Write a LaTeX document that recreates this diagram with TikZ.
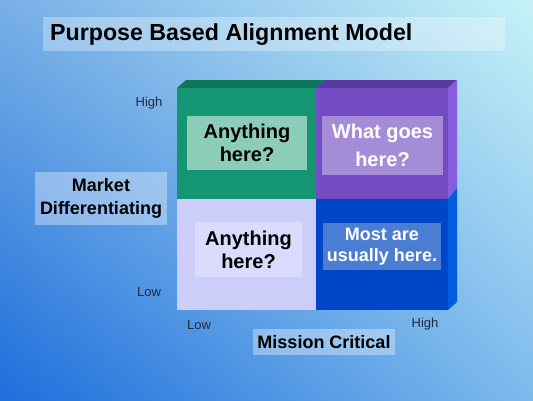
\documentclass[tikz,border=0pt]{standalone}
\usepackage{fontspec}
\setmainfont{Liberation Sans}
\usepackage{xcolor}
\usepackage{tikz}
\usetikzlibrary{shadings}

\definecolor{bgtl}{RGB}{120,175,230}
\definecolor{bgtr}{RGB}{198,242,247}
\definecolor{bgbl}{RGB}{30,110,220}
\definecolor{bgbr}{RGB}{125,185,236}
\definecolor{greenq}{RGB}{20,150,115}
\definecolor{greentop}{RGB}{15,118,92}
\definecolor{greenbox}{RGB}{140,205,185}
\definecolor{purpleq}{RGB}{115,75,195}
\definecolor{purpletop}{RGB}{88,58,160}
\definecolor{purpleside}{RGB}{135,95,222}
\definecolor{purplebox}{RGB}{165,140,215}
\definecolor{lavq}{RGB}{205,205,250}
\definecolor{lavbox}{RGB}{218,218,252}
\definecolor{blueq}{RGB}{0,70,200}
\definecolor{blueside}{RGB}{0,92,222}
\definecolor{bluebox}{RGB}{75,125,210}
\definecolor{labelgray}{RGB}{35,40,60}

\tikzset{
    labelbox/.style={fill=white, fill opacity=0.35, text opacity=1, inner sep=0pt, font=\bfseries\fontsize{18}{23}\selectfont},
    quadbox/.style={inner sep=0pt, align=center, font=\bfseries\fontsize{20}{23}\selectfont},
    ticklabel/.style={text=labelgray, font=\fontsize{13}{15}\selectfont}
}

\begin{document}
\begin{tikzpicture}[x=1pt, y=-1pt]
        \useasboundingbox (0, 0) rectangle (533, 400);
        \shade [upper left=bgtl, upper right=bgtr, lower left=bgbl, lower right=bgbr] (0, 0) rectangle (533, 400);

        % title
        \node [labelbox, fill opacity=0.3, minimum width=462pt, minimum height=34pt, anchor=north west] (title) at (43, 17) {};
        \node [anchor=west, inner sep=0pt, font=\bfseries\fontsize{23.2}{26}\selectfont] (titletext) at (50, 35) {Purpose Based Alignment Model};

        % the block: top and right faces
        \fill [greentop] (177, 88) -- (186, 80) -- (325, 80) -- (316, 88) -- cycle;
        \fill [purpletop] (316, 88) -- (325, 80) -- (457, 80) -- (448, 88) -- cycle;
        \fill [purpleside] (448, 88) -- (457, 80) -- (457, 188) -- (448, 199) -- cycle;
        \fill [blueside] (448, 199) -- (457, 188) -- (457, 302) -- (448, 310) -- cycle;

        % front quadrants
        \fill [greenq] (177, 88) rectangle (316, 199);
        \fill [purpleq] (316, 88) rectangle (448, 199);
        \fill [lavq] (177, 199) rectangle (316, 310);
        \fill [blueq] (316, 199) rectangle (448, 310);

        \node [quadbox, fill=greenbox, minimum width=120pt, minimum height=54pt] (tl) at (247, 143) {Anything\\here?};
        \node [quadbox, fill=purplebox, text=white, minimum width=121pt, minimum height=59pt] (tr) at (382.5, 145.5) {What goes\\[5pt]here?};
        \node [quadbox, fill=lavbox, minimum width=107pt, minimum height=55pt] (bl) at (248.5, 249.5) {Anything\\here?};
        \node [quadbox, fill=bluebox, text=white, minimum width=118pt, minimum height=47pt, font=\bfseries\fontsize{18}{21}\selectfont] (br) at (382, 246.5) {Most are\\usually here.};

        % axes
        \node [labelbox, align=center, minimum width=132pt, minimum height=53pt] (market) at (101, 198.5) {Market\\Differentiating};
        \node [labelbox, minimum width=142pt, minimum height=26pt] (mission) at (324, 342) {Mission Critical};

        \node [ticklabel] (yhigh) at (149, 103) {High};
        \node [ticklabel] (ylow) at (149, 292) {Low};
        \node [ticklabel] (xlow) at (199, 325) {Low};
        \node [ticklabel] (xhigh) at (425, 324) {High};
    \end{tikzpicture}
\end{document}
